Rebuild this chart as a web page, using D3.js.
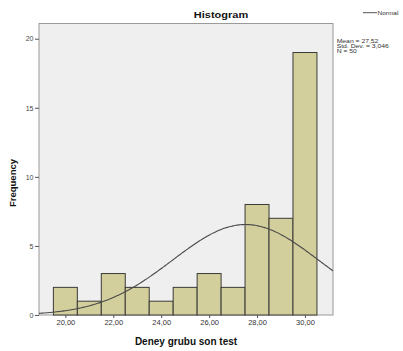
<!DOCTYPE html>
<html><head><meta charset="utf-8">
<script src="https://cdn.jsdelivr.net/npm/d3@7"></script>
<style>body{margin:0;background:#fff}svg{display:block}text{font-family:"Liberation Sans",Arial,sans-serif}</style>
</head><body><svg id="c" width="403" height="351"></svg>
<script>
const binCenters = [20,21,22,23,24,25,26,27,28,29,30];
const counts = [2,1,3,2,1,2,3,2,8,7,19];
const xTicks = [20,22,24,26,28,30];
const yTicks = [0,5,10,15,20];
const stats = ["Mean = 27,52","Std. Dev. = 3,046","N = 50"];
const mean = 27.52, sd = 3.046, n = 50, binWidth = 1;

const svg = d3.select("#c");
const L = 39, R = 333, T = 23.5, B = 315;
const x = d3.scaleLinear().domain([18.9, 31.17]).range([L, R]);
const y = d3.scaleLinear().domain([0, 21.1]).range([B, T]);

svg.append("rect").attr("x", L).attr("y", T).attr("width", R-L).attr("height", B-T)
  .attr("fill", "#efefef").attr("stroke", "#9a9a9a").attr("stroke-width", 1);

svg.append("g").selectAll("rect").data(binCenters).join("rect")
  .attr("x", (d) => x(d - binWidth/2))
  .attr("y", (d, i) => y(counts[i]))
  .attr("width", (d) => x(d + binWidth/2) - x(d - binWidth/2))
  .attr("height", (d, i) => y(0) - y(counts[i]))
  .attr("fill", "#d3cf9c").attr("stroke", "#3a3a36").attr("stroke-width", 1);

const pts = d3.range(0, 201).map(i => 18.9 + (31.17 - 18.9) * i / 200);
const pdf = v => n * binWidth * Math.exp(-0.5 * ((v - mean) / sd) ** 2) / (sd * Math.sqrt(2 * Math.PI));
svg.append("path").datum(pts)
  .attr("d", d3.line().x(d => x(d)).y(d => y(pdf(d))).curve(d3.curveBasis))
  .attr("fill", "none").attr("stroke", "#4a4a4a").attr("stroke-width", 1.1);

// axes
const xa = svg.append("g").attr("transform", `translate(0,${B})`)
  .call(d3.axisBottom(x).tickValues(xTicks).tickSize(3).tickPadding(2)
    .tickFormat(d => d3.format(".2f")(d).replace(".", ",")));
xa.select(".domain").remove();
xa.selectAll("line").attr("stroke", "#555");
xa.selectAll("text").attr("font-size", "7.5px").attr("fill", "#333").attr("font-family", "Liberation Sans, Arial, sans-serif");

const ya = svg.append("g").attr("transform", `translate(${L},0)`)
  .call(d3.axisLeft(y).tickValues(yTicks).tickSize(4).tickPadding(1.5));
ya.select(".domain").remove();
ya.selectAll("line").attr("stroke", "#555");
ya.selectAll("text").attr("font-size", "7px").attr("fill", "#444").attr("font-family", "Liberation Sans, Arial, sans-serif");

svg.append("text").attr("transform", "translate(221,18.3) scale(1,0.85)").attr("text-anchor", "middle")
  .attr("font-size", "11px").attr("font-weight", "bold").attr("fill", "#111").text("Histogram");

svg.append("text").attr("x", 186).attr("y", 345).attr("text-anchor", "middle")
  .attr("font-size", "10px").attr("font-weight", "bold").attr("fill", "#111").text("Deney grubu son test");

svg.append("text").attr("transform", "translate(16,183) rotate(-90)").attr("text-anchor", "middle")
  .attr("font-size", "9.5px").attr("font-weight", "bold").attr("fill", "#111").text("Frequency");

// legend
svg.append("line").attr("x1", 363).attr("x2", 377).attr("y1", 12.7).attr("y2", 12.7)
  .attr("stroke", "#555").attr("stroke-width", 1);
svg.append("text").attr("transform", "translate(377.5,14.8) scale(1,0.8)").attr("font-size", "6.5px").attr("fill", "#333").text("Normal");

svg.append("g").selectAll("text").data(stats).join("text")
  .attr("transform", (d, i) => `translate(336.7,${42.6 + i * 5.4}) scale(1,0.72)`)
  .attr("font-size", "6.8px").attr("fill", "#333").text(d => d);
</script></body></html>
